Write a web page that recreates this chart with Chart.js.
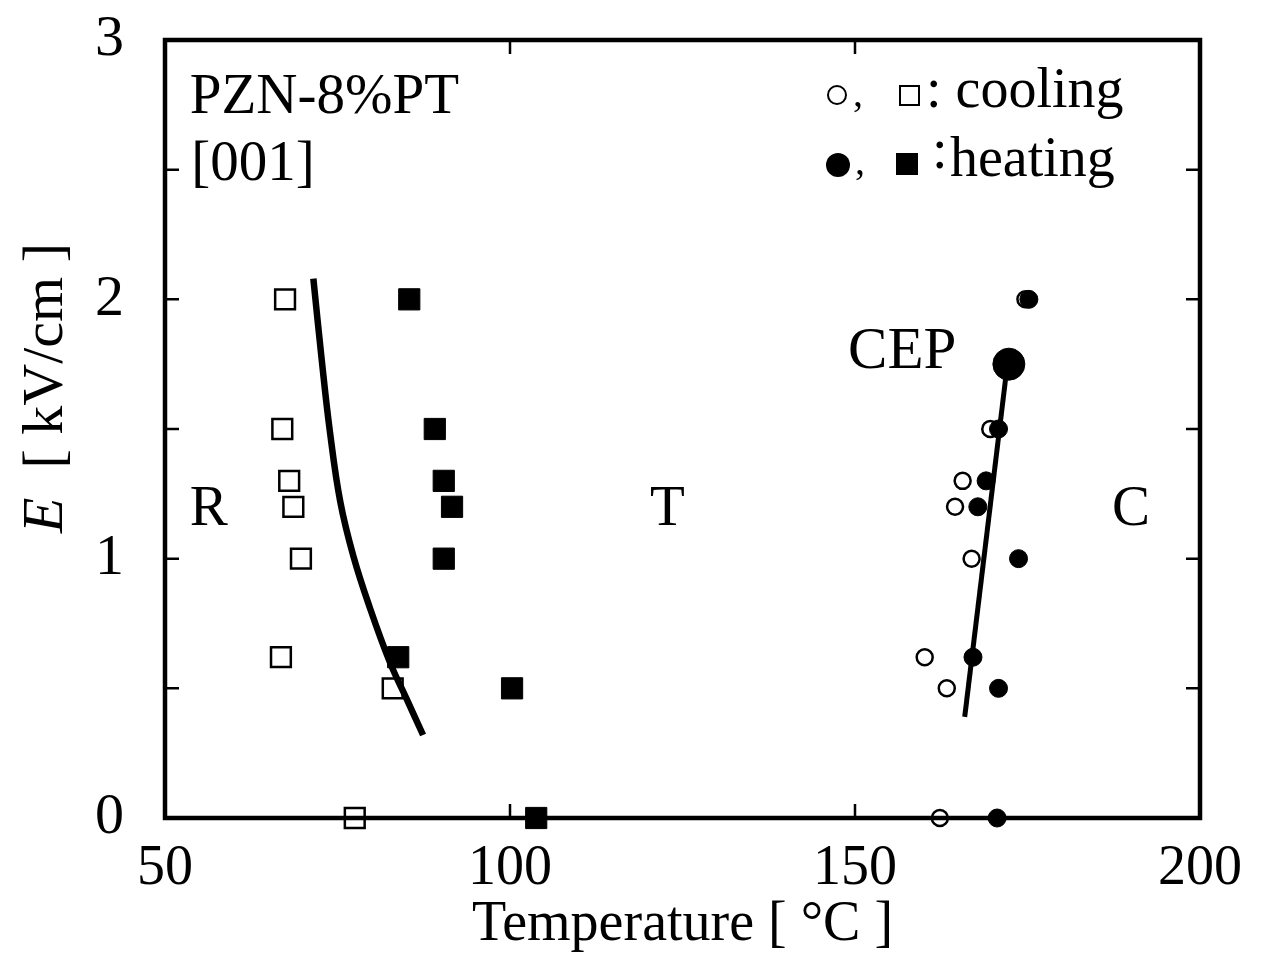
<!DOCTYPE html>
<html><head><meta charset="utf-8">
<script src="https://cdn.jsdelivr.net/npm/chart.js@4/dist/chart.umd.min.js"></script>
<style>html,body{margin:0;padding:0;background:#fff}#wrap{width:1280px;height:961px;position:relative}</style>
</head><body><div id="wrap"><canvas id="c"></canvas></div>
<script>
// ---- data ----
const xTickValues = [50, 100, 150, 200];
const yTickValues = [0, 1, 2, 3];
const fieldLevels = [2.0, 1.5, 1.3, 1.2, 1.0, 0.62, 0.5, 0];
const coolingSquareT = [67.4, 67.0, 68.0, 68.6, 69.7, 66.8, 83.0, 77.5];
const heatingSquareT = [85.4, 89.1, 90.4, 91.6, 90.4, 83.8, 100.3, 103.8];
const coolingCircleT = [174.7, 169.6, 165.6, 164.5, 166.9, 160.1, 163.3, 162.3];
const heatingCircleT = [175.2, 170.8, 169.0, 167.8, 173.7, 167.1, 170.8, 170.6];
const cepT = [172.3];
const cepE = [1.75];
const boundaryRT_T = [71.5, 72.7, 73.9, 75.4, 77.3, 79.7, 82.6, 85.0, 87.4];
const boundaryRT_E = [2.08, 1.77, 1.49, 1.22, 1.01, 0.81, 0.60, 0.46, 0.32];
const boundaryTC_T = [165.9, 171.9];
const boundaryTC_E = [0.39, 1.71];
const annotations = [
  {text: 'PZN-8%PT', T: 53.6, E: 2.719, size: 57},
  {text: '[001]', T: 53.8, E: 2.46, size: 57},
  {text: 'R', T: 53.6, E: 1.13, size: 57},
  {text: 'T', T: 120.3, E: 1.13, size: 57},
  {text: 'C', T: 187.25, E: 1.13, size: 57},
  {text: 'CEP', T: 149.0, E: 1.735, size: 59}
];

const FONT = "'Liberation Serif', 'Times New Roman', serif";
const pts = (xs, ys) => xs.map((x, i) => ({x: x, y: ys[i]}));

const framePlugin = {
  id: 'frame',
  beforeDatasetsDraw(chart) {
    const {ctx, chartArea: a, scales} = chart;
    ctx.save();
    ctx.strokeStyle = '#000';
    ctx.lineWidth = 2.5;
    const L = 14;
    ctx.beginPath();
    for (let v = 0.5; v < 3; v += 0.5) {
      const y = scales.y.getPixelForValue(v);
      ctx.moveTo(a.left, y); ctx.lineTo(a.left + L, y);
      ctx.moveTo(a.right, y); ctx.lineTo(a.right - L, y);
    }
    for (const v of [100, 150]) {
      const x = scales.x.getPixelForValue(v);
      ctx.moveTo(x, a.bottom); ctx.lineTo(x, a.bottom - L);
      ctx.moveTo(x, a.top); ctx.lineTo(x, a.top + L);
    }
    ctx.stroke();
    ctx.lineWidth = 4.5;
    ctx.strokeRect(a.left, a.top, a.right - a.left, a.bottom - a.top);
    ctx.restore();
  },
  afterDraw(chart) {
    const {ctx, chartArea: a, scales} = chart;
    ctx.save();
    ctx.fillStyle = '#000';
    ctx.textBaseline = 'alphabetic';
    ctx.textAlign = 'left';
    for (const an of annotations) {
      ctx.font = an.size + 'px ' + FONT;
      ctx.fillText(an.text, scales.x.getPixelForValue(an.T), scales.y.getPixelForValue(an.E));
    }
    // legend
    ctx.strokeStyle = '#000';
    ctx.lineWidth = 2;
    ctx.beginPath(); ctx.arc(837, 95, 9, 0, Math.PI * 2); ctx.stroke();
    ctx.strokeRect(900, 86, 19, 19);
    ctx.font = '40px ' + FONT;
    ctx.fillText(',', 853, 106);
    ctx.font = '56px ' + FONT;
    ctx.fillText(': cooling', 926, 107);
    ctx.beginPath(); ctx.arc(838, 165, 12, 0, Math.PI * 2); ctx.fill();
    ctx.fillRect(896, 153, 22, 22);
    ctx.font = '40px ' + FONT;
    ctx.fillText(',', 855, 174);
    ctx.font = '56px ' + FONT;
    ctx.fillText(':', 932, 168);
    ctx.fillText('heating', 950, 176);
    // y axis title with italic E
    ctx.translate(62, 388);
    ctx.rotate(-Math.PI / 2);
    const f1 = 'italic 58px ' + FONT, f2 = '58px ' + FONT;
    const t1 = 'E', t2 = '  [ kV/cm ]';
    ctx.font = f1; const w1 = ctx.measureText(t1).width;
    ctx.font = f2; const w2 = ctx.measureText(t2).width;
    const x0 = -(w1 + w2) / 2;
    ctx.font = f1; ctx.fillText(t1, x0, 0);
    ctx.font = f2; ctx.fillText(t2, x0 + w1, 0);
    ctx.restore();
  }
};

new Chart(document.getElementById('c'), {
  type: 'scatter',
  data: {
    datasets: [
      {label: 'R-T boundary', data: pts(boundaryRT_T, boundaryRT_E), showLine: true,
       borderColor: '#000', borderWidth: 6.5, pointRadius: 0, tension: 0.4, order: 4, clip: false},
      {label: 'T-C boundary', data: pts(boundaryTC_T, boundaryTC_E), showLine: true,
       borderColor: '#000', borderWidth: 5, pointRadius: 0, order: 4, clip: false},
      {label: 'cooling squares', data: pts(coolingSquareT, fieldLevels), pointStyle: 'rect',
       pointRadius: 14, backgroundColor: 'rgba(255,255,255,0)', borderColor: '#000', borderWidth: 2.5, order: 6, clip: false},
      {label: 'heating squares', data: pts(heatingSquareT, fieldLevels), pointStyle: 'rect',
       pointRadius: 15, backgroundColor: '#000', borderColor: '#000', borderWidth: 1, order: 2, clip: false},
      {label: 'cooling circles', data: pts(coolingCircleT, fieldLevels), pointStyle: 'circle',
       pointRadius: 8, backgroundColor: 'rgba(255,255,255,0)', borderColor: '#000', borderWidth: 2.5, order: 6, clip: false},
      {label: 'heating circles', data: pts(heatingCircleT, fieldLevels), pointStyle: 'circle',
       pointRadius: 9, backgroundColor: '#000', borderColor: '#000', borderWidth: 1, order: 2, clip: false},
      {label: 'CEP', data: pts(cepT, cepE), pointStyle: 'circle',
       pointRadius: 16, backgroundColor: '#000', borderColor: '#000', borderWidth: 1, order: 1, clip: false}
    ]
  },
  options: {
    responsive: true,
    maintainAspectRatio: false,
    animation: false,
    events: [],
    layout: {padding: {top: 40, right: 80, left: 0, bottom: 0}},
    plugins: {legend: {display: false}, tooltip: {enabled: false}},
    scales: {
      x: {
        type: 'linear', min: 50, max: 200,
        afterBuildTicks: s => { s.ticks = xTickValues.map(v => ({value: v})); },
        afterFit: s => { s.height = 143; s.paddingLeft = 0; s.paddingRight = 0; },
        grid: {display: false},
        border: {display: false},
        ticks: {color: '#000', font: {family: FONT, size: 56}, padding: 10, maxRotation: 0},
        title: {display: true, text: 'Temperature [ °C ]', color: '#000',
                font: {family: FONT, size: 56}, padding: {top: 0, bottom: 2}}
      },
      y: {
        type: 'linear', min: 0, max: 3,
        afterBuildTicks: s => { s.ticks = yTickValues.map(v => ({value: v})); },
        afterFit: s => { s.width = 165; s.paddingTop = 0; s.paddingBottom = 0; },
        grid: {display: false},
        border: {display: false},
        ticks: {color: '#000', font: {family: FONT, size: 58}, padding: 33},
        title: {display: false}
      }
    }
  },
  plugins: [framePlugin]
});
</script>
</body></html>
